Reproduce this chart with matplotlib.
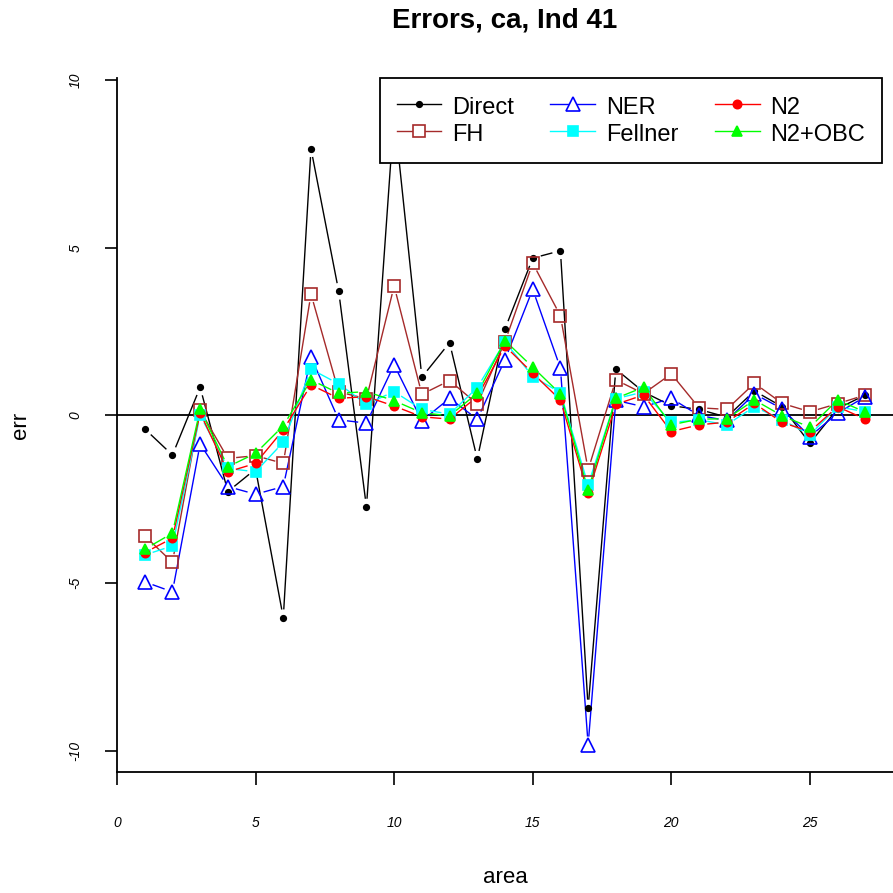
import matplotlib
matplotlib.use("Agg")
import matplotlib.pyplot as plt
import numpy as np
from matplotlib.lines import Line2D

plt.rcParams["font.family"] = ["Liberation Sans", "DejaVu Sans"]

area = list(range(1, 28))

direct = [-0.40, -1.18, 0.84, -2.27, -1.60, -6.03, 7.95, 3.70, -2.73, 9.0,
          1.14, 2.17, -1.30, 2.58, 4.69, 4.91, -8.72, 1.38, 0.70, 0.29,
          0.18, -0.05, 0.73, 0.26, -0.83, 0.20, 0.61]
fh = [-3.59, -4.38, 0.15, -1.28, -1.20, -1.43, 3.62, 0.70, 0.50, 3.86,
      0.63, 1.04, 0.34, 2.20, 4.54, 2.97, -1.62, 1.06, 0.65, 1.24,
      0.23, 0.18, 0.96, 0.36, 0.11, 0.35, 0.61]
ner = [-4.96, -5.26, -0.85, -2.12, -2.35, -2.12, 1.74, -0.13, -0.23, 1.51,
       -0.16, 0.51, -0.11, 1.66, 3.76, 1.41, -9.82, 0.45, 0.26, 0.51,
       0.00, -0.15, 0.64, 0.20, -0.63, 0.07, 0.56]
fellner = [-4.16, -3.89, 0.01, -1.58, -1.68, -0.80, 1.38, 0.94, 0.34, 0.71,
           0.18, 0.04, 0.83, 2.20, 1.16, 0.68, -2.07, 0.50, 0.70, -0.21,
           -0.13, -0.28, 0.26, -0.13, -0.58, 0.26, 0.11]
n2 = [-4.09, -3.66, 0.08, -1.68, -1.43, -0.43, 0.91, 0.51, 0.56, 0.28,
      -0.04, -0.11, 0.56, 2.07, 1.26, 0.46, -2.32, 0.33, 0.61, -0.48,
      -0.28, -0.20, 0.36, -0.21, -0.48, 0.26, -0.11]
n2_obc = [-3.99, -3.51, 0.18, -1.53, -1.13, -0.31, 1.06, 0.66, 0.71, 0.44,
          0.08, -0.01, 0.66, 2.23, 1.44, 0.64, -2.22, 0.51, 0.84, -0.28,
          -0.11, -0.10, 0.46, -0.01, -0.35, 0.46, 0.10]

series = [
    ("Direct", direct, "black", "o", 4, True),
    ("FH", fh, "#A52A2A", "s", 8, False),
    ("NER", ner, "blue", "^", 10, False),
    ("Fellner", fellner, "cyan", "s", 7.5, True),
    ("N2", n2, "red", "o", 6, True),
    ("N2+OBC", n2_obc, "#00FF00", "^", 7.5, True),
]

W = H = 893
fig = plt.figure(figsize=(W / 100, H / 100), dpi=100)
ax = fig.add_axes([117 / W, (H - 772) / H, (W - 117) / W, (772 - 78) / H])
ax.set_xlim(0, 28.0)
ax.set_ylim(-10.63, 10.06)

ax.axhline(0, color="black", linewidth=1.3, zorder=1)


def gapped_line(ax, xs, ys, color, gap=9.0):
    # R type="b": segments stop short of each point
    pts = ax.transData.transform(np.column_stack([xs, ys]))
    inv = ax.transData.inverted()
    for p0, p1 in zip(pts[:-1], pts[1:]):
        d = p1 - p0
        L = np.hypot(*d)
        if L <= 2 * gap:
            continue
        u = d / L
        a = inv.transform(p0 + u * gap)
        b = inv.transform(p1 - u * gap)
        ax.plot([a[0], b[0]], [a[1], b[1]], color=color, linewidth=1.0, zorder=2)


handles = []
for name, vals, col, mk, ms, filled in series:
    gapped_line(ax, area, vals, col)
    ax.plot(area, vals, linestyle="none", marker=mk, markersize=ms,
            markerfacecolor=col if filled else "none", markeredgecolor=col,
            markeredgewidth=1.2, zorder=3)
    handles.append(Line2D([], [], color=col, linewidth=1.0, marker=mk,
                          markersize=ms, markerfacecolor=col if filled else "white",
                          markeredgecolor=col, markeredgewidth=1.2, label=name))

for s in ["top", "right"]:
    ax.spines[s].set_visible(False)
ax.spines["left"].set_linewidth(1.3)
ax.spines["bottom"].set_linewidth(1.3)

ax.set_xticks([0, 5, 10, 15, 20, 25])
ax.set_yticks([-10, -5, 0, 5, 10])
ax.set_xticklabels(["0", "5", "10", "15", "20", "25"], fontsize=10, style="italic")
ax.set_yticklabels(["-10", "-5", "0", "5", "10"], fontsize=10, style="italic",
                   rotation=90, va="center")
ax.tick_params(axis="both", length=9, width=1.2, color="black")
ax.tick_params(axis="x", pad=23)
ax.tick_params(axis="y", pad=16)

ax.set_xlabel("area", fontsize=16, labelpad=26)
ax.set_ylabel("err", fontsize=16, labelpad=27)
fig.text(505 / W, 1 - 20 / H, "Errors, ca, Ind 41", fontsize=20, fontweight="bold",
         ha="center", va="center")

leg = ax.legend(handles=handles, ncol=3, loc="upper left",
                bbox_to_anchor=((380 - 117) / (W - 117), 1.0), fontsize=17,
                frameon=True, fancybox=False, framealpha=1.0,
                handlelength=1.9, handleheight=1.1, columnspacing=1.55,
                borderpad=0.7, labelspacing=0.12, handletextpad=0.45,
                borderaxespad=0)
leg.get_frame().set_edgecolor("black")
leg.get_frame().set_linewidth(1.3)
leg.set_zorder(5)

fig.savefig("out.png", dpi=100)
